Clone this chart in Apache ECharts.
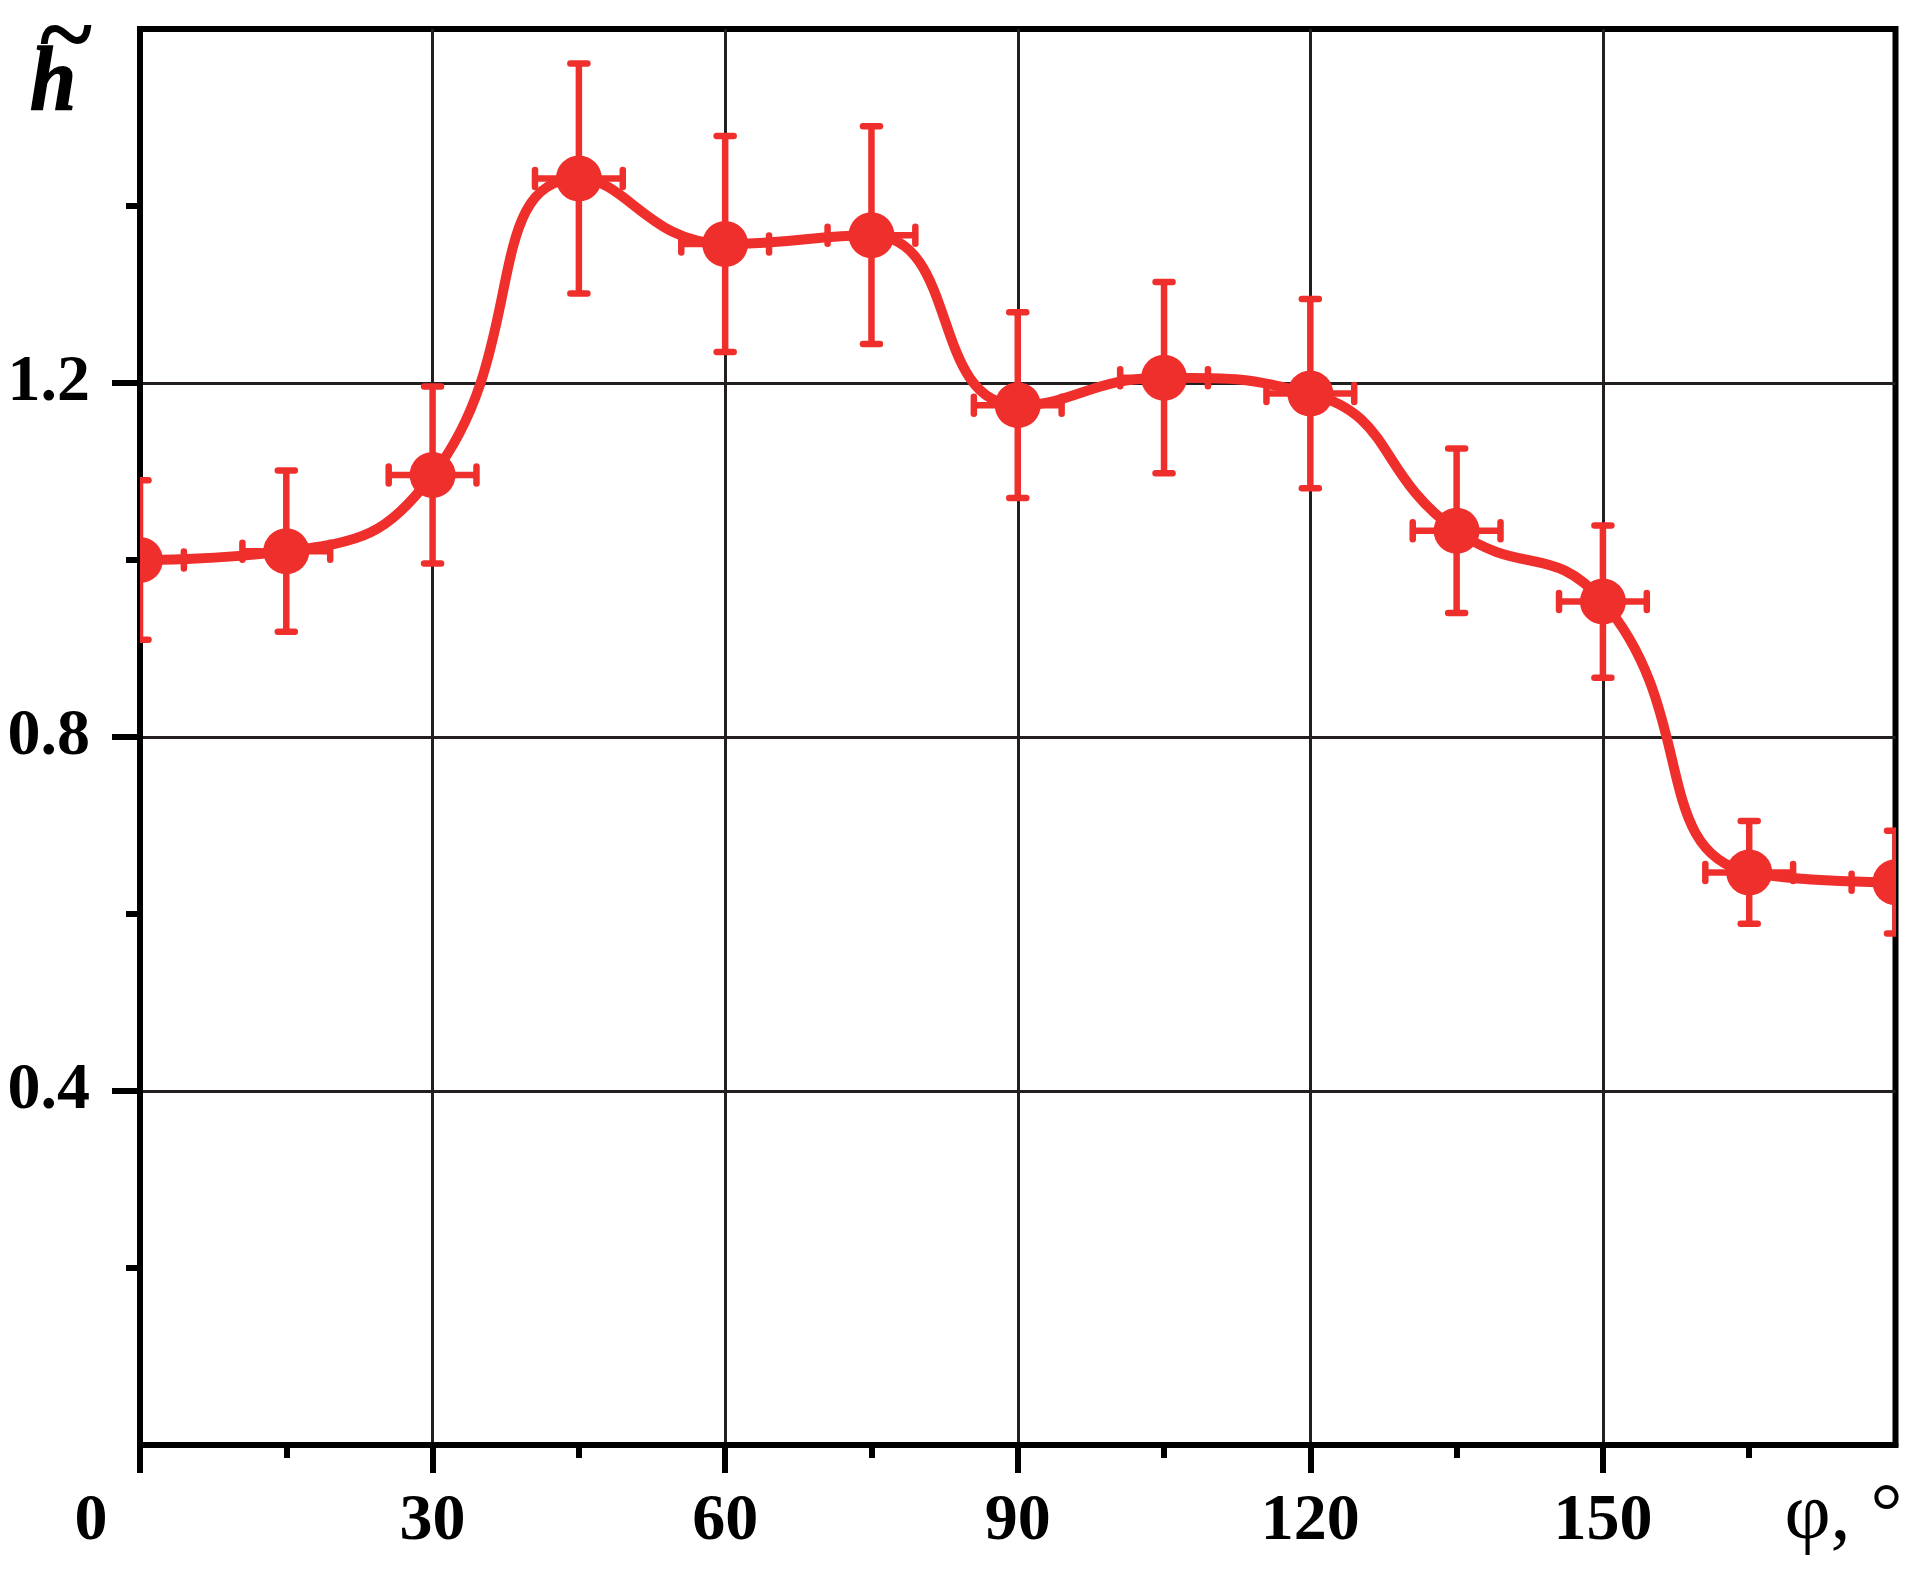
<!DOCTYPE html>
<html><head><meta charset="utf-8">
<script src="https://cdn.jsdelivr.net/npm/echarts@6/dist/echarts.min.js"></script>
<style>html,body{margin:0;padding:0;background:#fff}#c{width:1928px;height:1590px}</style>
</head><body><div id="c"></div>
<script>
// ---- data ----
const phi    = [0, 15, 30, 45, 60, 75, 90, 105, 120, 135, 150, 165, 180];
const h      = [1.000, 1.010, 1.096, 1.431, 1.357, 1.367, 1.175, 1.206, 1.188, 1.033, 0.953, 0.647, 0.636];
const hErr   = [0.090, 0.091, 0.100, 0.130, 0.122, 0.123, 0.105, 0.108, 0.107, 0.093, 0.086, 0.058, 0.058];
const phiErr = [4.5, 4.5, 4.5, 4.5, 4.5, 4.5, 4.5, 4.5, 4.5, 4.5, 4.5, 4.5, 4.5];

const xTickValues  = [0, 30, 60, 90, 120, 150];
const xLabelValues = [0, 30, 60, 90, 120, 150, 180];
const xTickLabels  = ['0', '30', '60', '90', '120', '150', 'φ, °'];
const yTickValues  = [0.4, 0.8, 1.2];
const yTickLabels  = ['0.4', '0.8', '1.2'];
const yTitle = 'h';
const yTitleAccent = '~';

// ---- styling ----
const RED = '#ee2f2c';
const GRIDC = '#231f20';
const FONT = '"Liberation Serif", "Times New Roman", serif';

const lineData = phi.map((p, i) => [p, h[i]]);
const errData = phi.map((p, i) => [p, h[i], hErr[i], phiErr[i]]);

const chart = echarts.init(document.getElementById('c'), null, {renderer: 'canvas'});

chart.setOption({
  backgroundColor: '#fff',
  animation: false,
  grid: {left: 140, right: 32.5, top: 29, bottom: 145, show: true, borderColor: '#000', borderWidth: 6,
    backgroundColor: 'transparent', containLabel: false, outerBoundsMode: 'none'},
  xAxis: {
    type: 'value', min: 0, max: 180, interval: 30,
    axisLine: {show: true, lineStyle: {color: '#000', width: 6}},
    axisTick: {show: true, inside: false, length: 28, lineStyle: {color: '#000', width: 6}, customValues: xTickValues},
    minorTick: {show: true, splitNumber: 2, length: 13, lineStyle: {color: '#000', width: 6}},
    splitLine: {show: true, lineStyle: {color: GRIDC, width: 3}},
    axisLabel: {
      customValues: xLabelValues,
      margin: 44,
      fontFamily: FONT, fontSize: 66, fontWeight: 'bold', color: '#000',
      formatter: function (v) {
        const i = xLabelValues.indexOf(v);
        const t = i >= 0 ? xTickLabels[i] : '';
        if (v === 0) return '{z|' + t + '}';
        if (v === 180) return '{p|' + t + '}';
        return '{b|' + t + '}';
      },
      rich: {
        b: {fontFamily: FONT, fontSize: 66, fontWeight: 'bold', color: '#000'},
        z: {fontFamily: FONT, fontSize: 66, fontWeight: 'bold', color: '#000', padding: [0, 98, 0, 0]},
        p: {fontFamily: FONT, fontSize: 80, lineHeight: 56, fontWeight: 'normal', color: '#000', padding: [0, 104, 0, 0]}
      }
    }
  },
  yAxis: {
    type: 'value', min: 0, max: 1.6, interval: 0.4,
    axisLine: {show: true, lineStyle: {color: '#000', width: 6}},
    axisTick: {show: true, inside: false, length: 28, lineStyle: {color: '#000', width: 6}, customValues: yTickValues},
    minorTick: {show: true, splitNumber: 2, length: 14, lineStyle: {color: '#000', width: 6}},
    splitLine: {show: true, lineStyle: {color: GRIDC, width: 3}},
    axisLabel: {
      customValues: yTickValues,
      margin: 50,
      fontFamily: FONT, fontSize: 66, fontWeight: 'bold', color: '#000',
      formatter: function (v) {
        const i = yTickValues.findIndex(t => Math.abs(t - v) < 1e-9);
        return i >= 0 ? yTickLabels[i] : '';
      }
    }
  },
  graphic: [
    {type: 'text', x: 30, y: 39, scaleX: 0.9, z: 10,
      style: {text: yTitle, font: 'italic bold 92px ' + FONT, fill: '#000', align: 'left', verticalAlign: 'top',
        stroke: '#000', lineWidth: 1.5}},
    {type: 'text', x: 40, y: -9, z: 10,
      style: {text: yTitleAccent, font: 'bold 100px ' + FONT, fill: '#000', align: 'left', verticalAlign: 'top'}}
  ],
  series: [
    {
      type: 'line', data: lineData, smooth: 0.5, symbol: 'none',
      lineStyle: {color: RED, width: 10}, clip: true, z: 3
    },
    {
      type: 'custom', data: errData, clip: true, z: 4,
      encode: {x: 0, y: 1},
      renderItem: function (params, api) {
        const x = api.value(0), y = api.value(1), ey = api.value(2), ex = api.value(3);
        const c = api.coord([x, y]);
        const t = api.coord([x, y + ey]);
        const b = api.coord([x, y - ey]);
        const l = api.coord([x - ex, y]);
        const r = api.coord([x + ex, y]);
        const lw = 6.5, cap = 8.5;
        const st = {stroke: RED, lineWidth: lw};
        const sc = {stroke: RED, lineWidth: lw, lineCap: 'round'};
        return {type: 'group', children: [
          {type: 'line', shape: {x1: c[0], y1: t[1], x2: c[0], y2: b[1]}, style: st},
          {type: 'line', shape: {x1: c[0] - cap, y1: t[1], x2: c[0] + cap, y2: t[1]}, style: sc},
          {type: 'line', shape: {x1: c[0] - cap, y1: b[1], x2: c[0] + cap, y2: b[1]}, style: sc},
          {type: 'line', shape: {x1: l[0], y1: c[1], x2: r[0], y2: c[1]}, style: st},
          {type: 'line', shape: {x1: l[0], y1: c[1] - cap, x2: l[0], y2: c[1] + cap}, style: sc},
          {type: 'line', shape: {x1: r[0], y1: c[1] - cap, x2: r[0], y2: c[1] + cap}, style: sc},
          {type: 'circle', shape: {cx: c[0], cy: c[1], r: 23}, style: {fill: RED}}
        ]};
      }
    }
  ]
});
</script>
</body></html>
